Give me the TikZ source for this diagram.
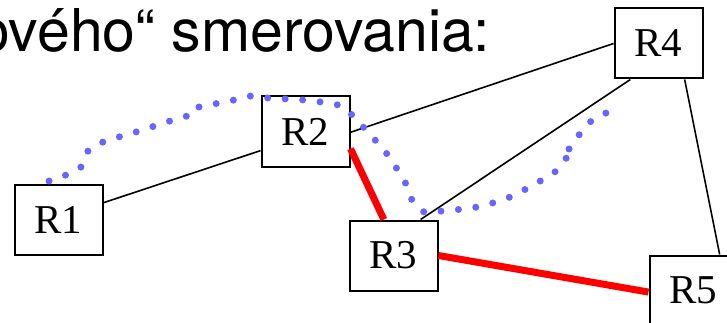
\documentclass[tikz,border=0pt]{standalone}
\usepackage{fontspec}
\setmainfont{Liberation Serif}
\newfontfamily\headfont{TeX Gyre Heros}
\usepackage{tikz}
\definecolor{dotblue}{RGB}{102,102,255}

\begin{document}
\begin{tikzpicture}[x=1pt,y=-1pt,
	router/.style={draw,line width=2pt,fill=white,minimum width=88pt,minimum height=70pt,inner sep=0pt,font=\fontsize{41}{48}\selectfont},
	link/.style={line width=1.6pt},
	redlink/.style={red,line width=7pt},
	dots/.style={dotblue,line width=7pt,line cap=round,dash pattern=on 0pt off 17.5pt}]
		\useasboundingbox (0,0) rectangle (727,323);
		\clip (0,0) rectangle (727,323);
		\node[anchor=base west,inner sep=0pt,font=\headfont\fontsize{59}{70}\selectfont] (title) at (-23,52) {ového“ smerovania:};
		\node[router] (R1) at (58.5,220) {R1};
		\node[router] (R2) at (305.5,131.5) {R2};
		\node[router] (R3) at (393.5,255.5) {R3};
		\node[router] (R4) at (658.5,43.5) {R4};
		\node[router] (R5) at (693.5,290.5) {R5};
		\draw[link](R1.21)--(R2.203);
		\draw[link](R2.-1)--(R4.west);
		\draw[link](R3.53)--(R4.232);
		\draw[link](R4.-54)--(R5.54);
		\draw[redlink](R2.-21)--(R3.105);
		\draw[redlink](R3.east)--(R5.182);
		% cesta
		\draw[dots] plot[smooth] coordinates {(49,181) (66,175) (81,167) (88,151) (103,142) (136,132) (170,121) (187,116) (193,110)};
		\draw[dots] plot[smooth] coordinates {(199,107) (234,100) (251,96) (268,98) (303,100) (338,105) (352,115) (365,129) (387,154) (406,184) (412,200) (424,212) (442,211) (477,207) (510,197) (542,180) (556,171) (567,157)};
		\draw[dots] plot[smooth] coordinates {(569,149) (579,135) (590,122) (606,113) (616,99)};
	\end{tikzpicture}
\end{document}
